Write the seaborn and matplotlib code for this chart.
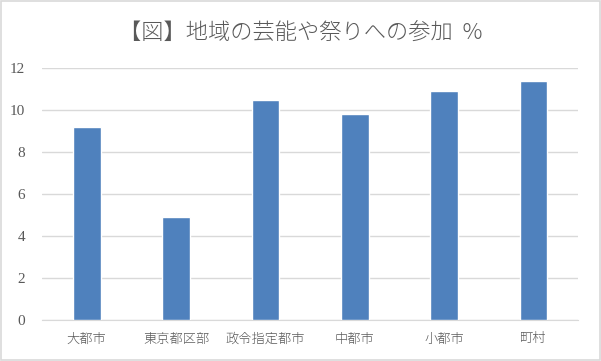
import pandas as pd
import matplotlib.pyplot as plt
import seaborn as sns

# Data
categories = ["大都市", "東京都区部", "政令指定都市", "中都市", "小都市", "町村"]
values = [9.2, 4.9, 10.5, 9.8, 10.9, 11.4]
yticks = [0, 2, 4, 6, 8, 10, 12]

df = pd.DataFrame({"category": categories, "value": values})

sns.set_style("white")
plt.rcParams["font.family"] = ["Noto Sans CJK JP", "DejaVu Sans"]

fig = plt.figure(figsize=(6.01, 3.61), dpi=100)
ax = fig.add_axes([0.07, 0.1136, 0.892, 0.698])

sns.barplot(data=df, x="category", y="value", color="#4f81bd", width=0.31,
            saturation=1, ax=ax, zorder=3)

ax.set_ylim(0, 12)
ax.set_yticks(yticks)
ax.set_yticklabels([str(t) for t in yticks], family="Liberation Serif",
                   fontsize=11, color="#595959")
ax.set_xticklabels(categories, fontsize=9.5, color="#595959", fontweight="light")
ax.tick_params(axis="y", length=0, pad=12)
ax.tick_params(axis="x", length=0, pad=9)
ax.grid(axis="y", color="#d9d9d9", linewidth=1, zorder=0)
ax.set_xlabel("")
ax.set_ylabel("")
for side in ["top", "right", "left"]:
    ax.spines[side].set_visible(False)
ax.spines["bottom"].set_color("#d9d9d9")

fig.text(0.5, 0.91, "【図】地域の芸能や祭りへの参加  %", ha="center", va="center",
         fontsize=16, color="#595959", fontweight="light")

# light outer border like the original chart frame
fig.patches.append(plt.Rectangle((0.001, 0.002), 0.997, 0.995, transform=fig.transFigure,
                                 fill=False, edgecolor="#d9d9d9", linewidth=1.2))

plt.savefig("out.png", dpi=100)
